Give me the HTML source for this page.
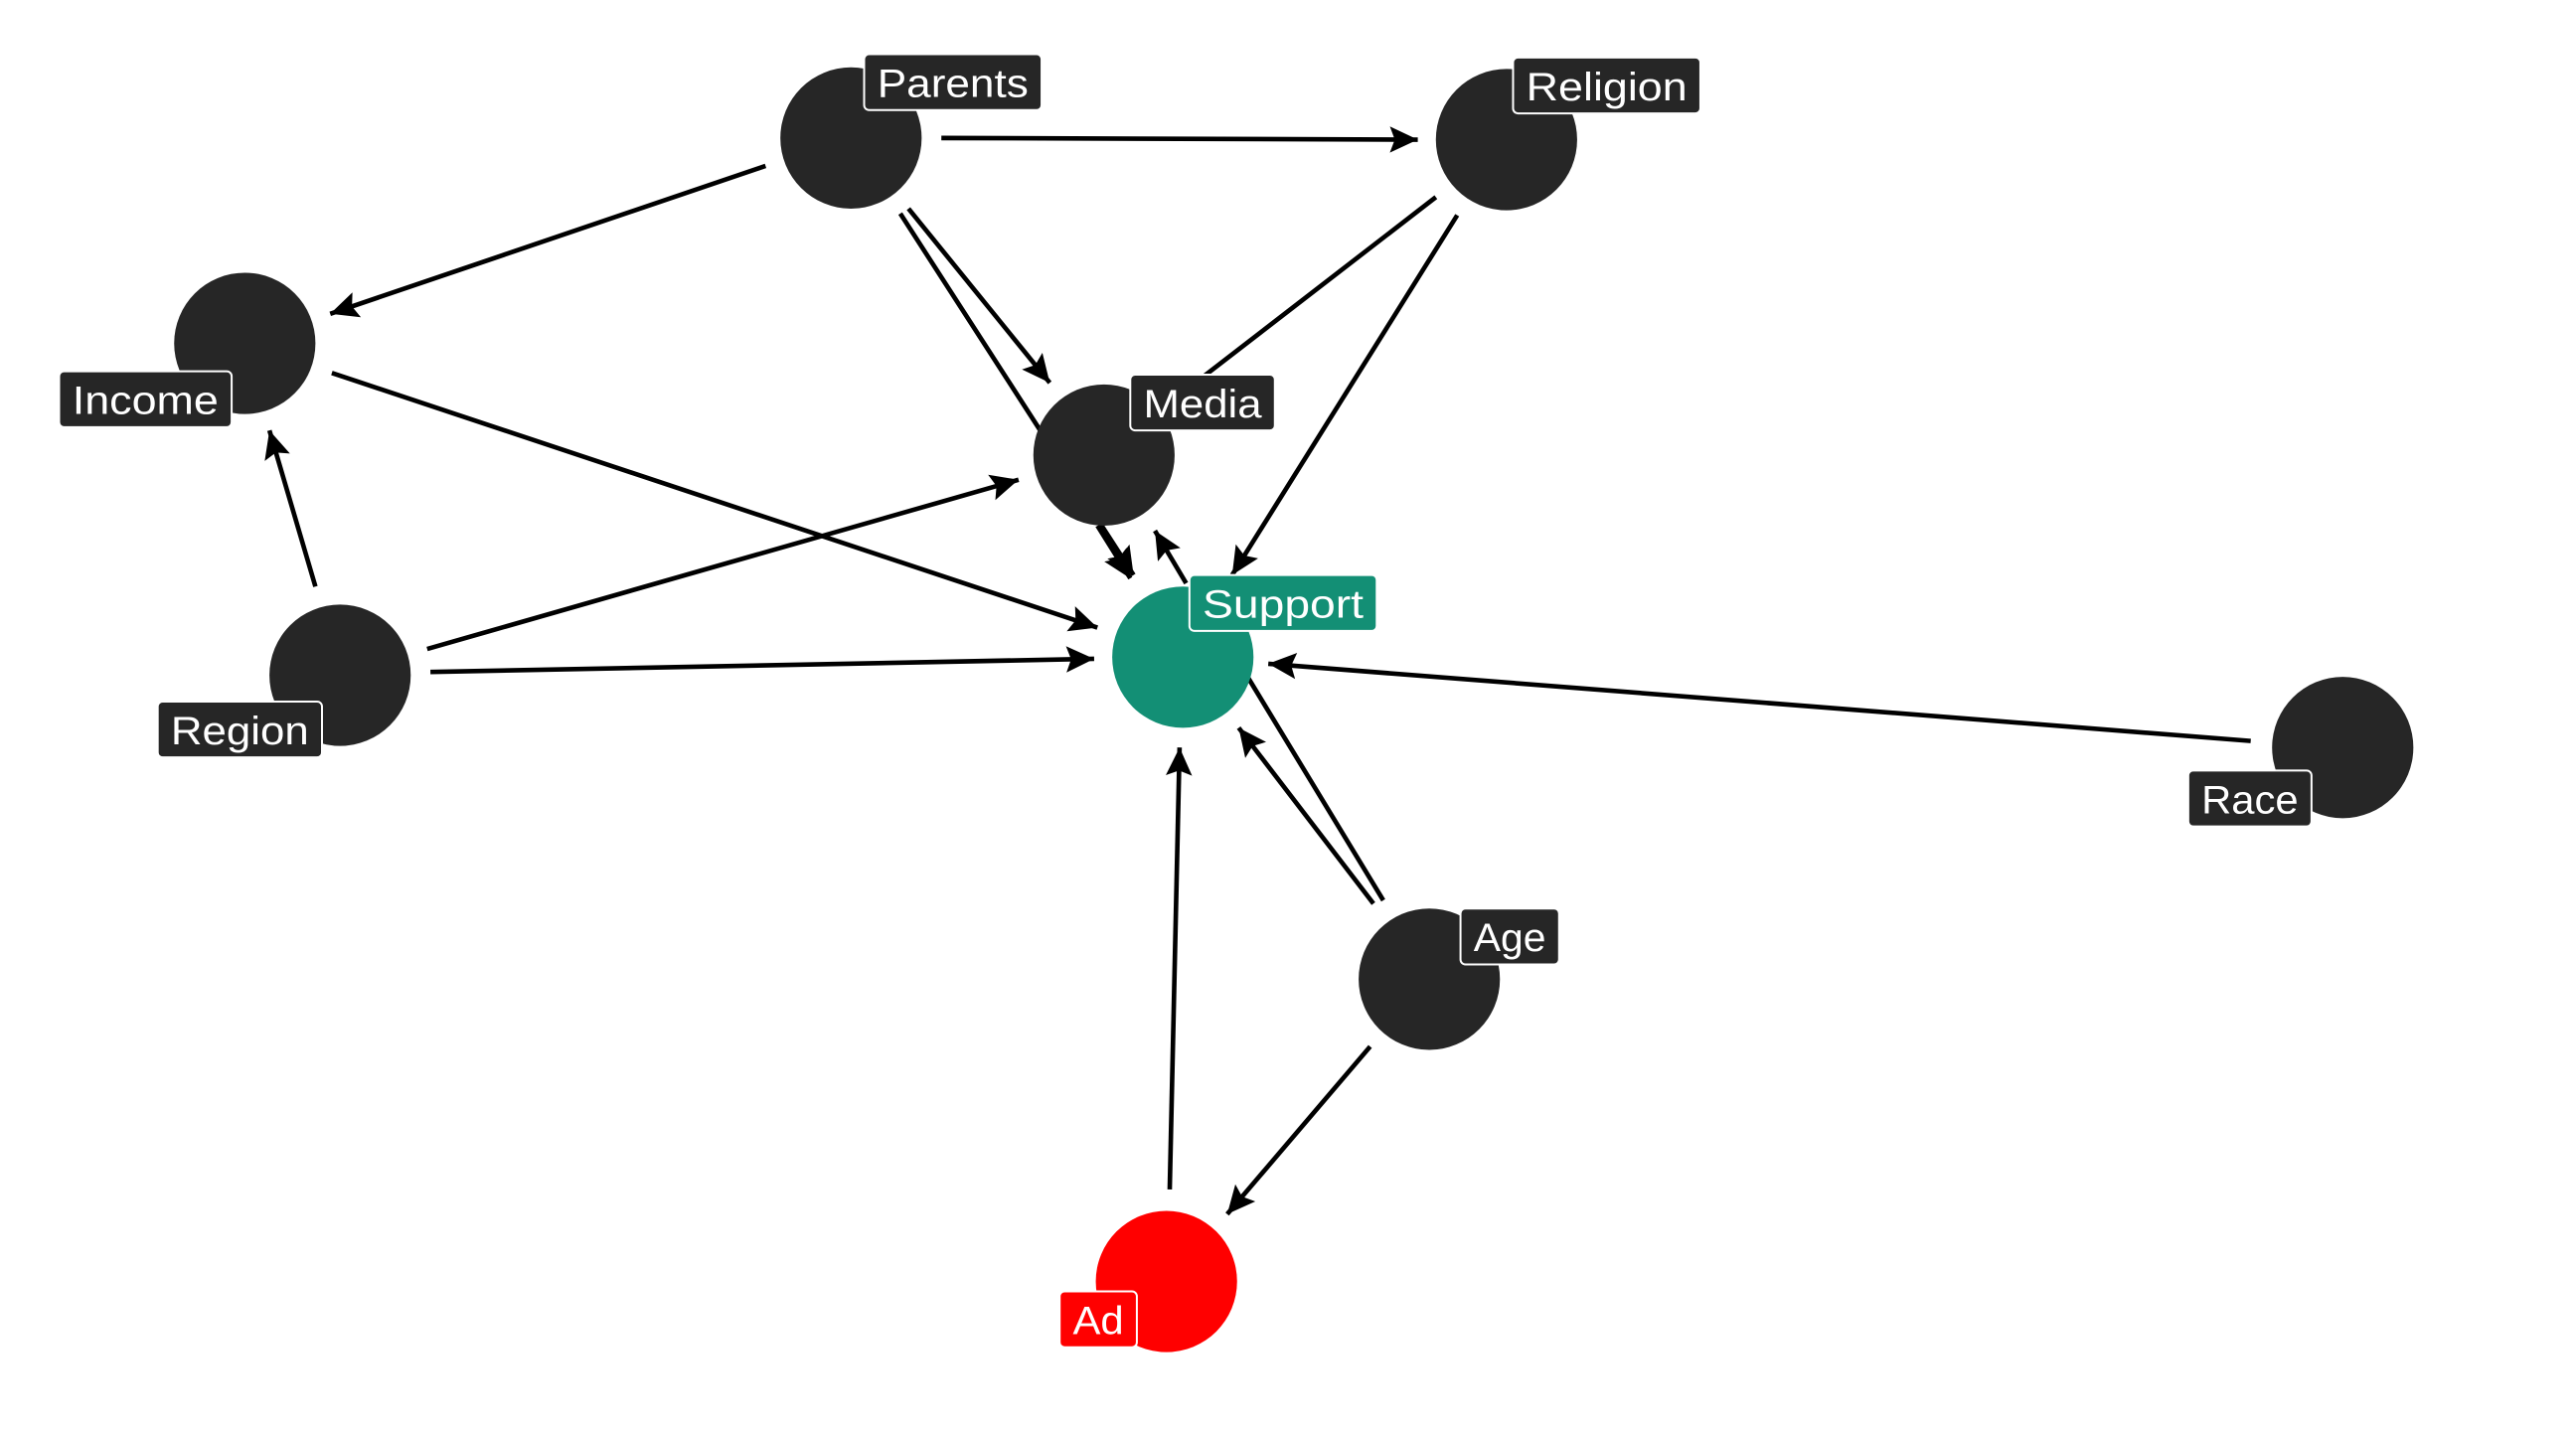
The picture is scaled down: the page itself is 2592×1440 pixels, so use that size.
<!DOCTYPE html>
<html><head><meta charset="utf-8"><style>
html,body{margin:0;padding:0;background:#fff;width:2592px;height:1440px;overflow:hidden}
svg{display:block}
text{font-family:"Liberation Sans",sans-serif;font-size:24px;fill:#fff}
</style></head><body>
<svg width="2592" height="1440" viewBox="0 0 1568 871" preserveAspectRatio="none">
<defs>
<marker id="m" viewBox="-18 -9 20 18" refX="0" refY="0" markerWidth="20" markerHeight="18" orient="auto" markerUnits="userSpaceOnUse"><path d="M0,0 L-17,-8 L-14,0 L-17,8z" fill="#000"/></marker></defs>
<g stroke="#000" stroke-width="2.8" fill="none">
<line x1="548" y1="130" x2="690" y2="350" marker-end="url(#m)"/>
<line x1="874" y1="120" x2="690" y2="262"/>
<line x1="842" y1="548" x2="740" y2="380"/>
<line x1="573" y1="84" x2="863" y2="85" marker-end="url(#m)"/>
<line x1="466" y1="101" x2="201" y2="191" marker-end="url(#m)"/>
<line x1="553" y1="127" x2="639" y2="233" marker-end="url(#m)"/>
<line x1="887" y1="131" x2="750" y2="350" marker-end="url(#m)"/>
<line x1="202" y1="227" x2="668" y2="382" marker-end="url(#m)"/>
<line x1="192" y1="357" x2="164" y2="262" marker-end="url(#m)"/>
<line x1="260" y1="395" x2="620" y2="292" marker-end="url(#m)"/>
<line x1="262" y1="409" x2="666" y2="401" marker-end="url(#m)"/>
<line x1="668" y1="320" x2="688" y2="352" marker-end="url(#m)"/>
<line x1="722" y1="355" x2="703" y2="323" marker-end="url(#m)"/>
<line x1="1370" y1="451" x2="772" y2="404" marker-end="url(#m)"/>
<line x1="836" y1="550" x2="754" y2="443" marker-end="url(#m)"/>
<line x1="834" y1="637" x2="747" y2="739" marker-end="url(#m)"/>
<line x1="712" y1="724" x2="718" y2="455" marker-end="url(#m)"/>
</g>
<g fill="#262626">
<circle cx="518" cy="84" r="43"/><circle cx="917" cy="85" r="43"/><circle cx="149" cy="209" r="43"/>
<circle cx="672" cy="277" r="43"/><circle cx="207" cy="411" r="43"/><circle cx="1426" cy="455" r="43"/>
<circle cx="870" cy="596" r="43"/>
</g>
<circle cx="720" cy="400" r="43" fill="#138f75"/>
<circle cx="710" cy="780" r="43" fill="#ff0000"/>
<g stroke="#fff" stroke-width="1.2">
<rect x="526" y="33" width="108" height="34" rx="3" fill="#262626"/>
<rect x="921" y="35" width="114" height="34" rx="3" fill="#262626"/>
<rect x="36" y="226" width="105" height="34" rx="3" fill="#262626"/>
<rect x="688" y="228" width="88" height="34" rx="3" fill="#262626"/>
<rect x="724" y="350" width="114" height="34" rx="3" fill="#138f75"/>
<rect x="96" y="427" width="100" height="34" rx="3" fill="#262626"/>
<rect x="1332" y="469" width="75" height="34" rx="3" fill="#262626"/>
<rect x="889" y="553" width="60" height="34" rx="3" fill="#262626"/>
<rect x="645" y="786" width="47" height="34" rx="3" fill="#ff0000"/>
</g>
<text x="534" y="59" textLength="92" lengthAdjust="spacingAndGlyphs">Parents</text>
<text x="929" y="61" textLength="98" lengthAdjust="spacingAndGlyphs">Religion</text>
<text x="44" y="252" textLength="89" lengthAdjust="spacingAndGlyphs">Income</text>
<text x="696" y="254" textLength="72" lengthAdjust="spacingAndGlyphs">Media</text>
<text x="732" y="376" textLength="98" lengthAdjust="spacingAndGlyphs">Support</text>
<text x="104" y="453" textLength="84" lengthAdjust="spacingAndGlyphs">Region</text>
<text x="1340" y="495" textLength="59" lengthAdjust="spacingAndGlyphs">Race</text>
<text x="897" y="579" textLength="44" lengthAdjust="spacingAndGlyphs">Age</text>
<text x="653" y="812" textLength="31" lengthAdjust="spacingAndGlyphs">Ad</text>
</svg>
</body></html>
